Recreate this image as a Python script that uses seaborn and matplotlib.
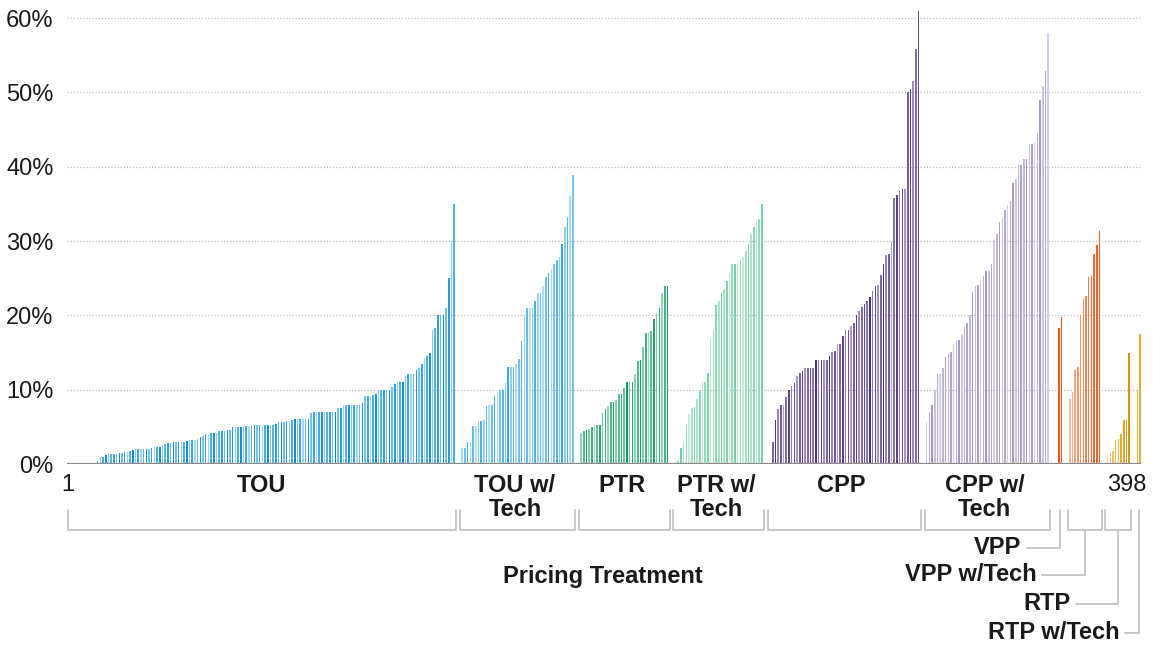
import numpy as np
import pandas as pd
import seaborn as sns
import matplotlib.pyplot as plt
from matplotlib.colors import to_rgb
from matplotlib.ticker import PercentFormatter
from matplotlib.transforms import blended_transform_factory

# peak demand reduction per pilot, sorted inside each pricing treatment (%)
groups = ['TOU', 'TOU w/\nTech', 'PTR', 'PTR w/\nTech', 'CPP', 'CPP w/\nTech',
          'VPP', 'VPP w/Tech', 'RTP', 'RTP w/Tech']

tou = [0, 0, 0, 0, 0, 0, 0, 0, 0, 0, 0,
       0.4, 0.9, 1.0, 1.2, 1.3, 1.35, 1.35, 1.4, 1.5, 1.5, 1.6, 1.6, 1.7, 1.85,
       2.0, 2.0, 2.0, 2.0, 2.0, 2.0, 2.2, 2.3, 2.3, 2.3, 2.6, 2.7, 2.8, 2.8, 2.9,
       3.0, 3.0, 3.0, 3.0, 3.1, 3.2, 3.2, 3.3, 3.4, 3.6, 3.8, 4.0, 4.1, 4.2, 4.2,
       4.2, 4.4, 4.5, 4.5, 4.6, 4.6, 5.0, 5.0, 5.0, 5.0, 5.1, 5.1, 5.1, 5.2, 5.2,
       5.2, 5.2, 5.2, 5.3, 5.3,
       5.3, 5.3, 5.4, 5.6, 5.6, 5.7, 5.8, 5.8, 5.9, 6.0, 6.0, 6.0, 6.0, 6.1, 6.1,
       6.8, 7.0, 7.0, 7.0, 7.0, 7.0, 7.0, 7.0, 7.0, 7.0, 7.5, 7.6,
       8.0, 8.0, 8.0, 8.0, 8.0, 8.0, 8.0, 8.2, 9.1, 9.1, 9.1, 9.3, 9.4,
       10.0, 10.0, 10.0, 10.0, 10.0, 10.3, 10.8, 11.1, 11.1, 11.1, 11.8,
       12.1, 12.1, 12.1, 12.6, 12.9, 13.5, 14.3, 14.5, 14.9, 18.1, 18.3,
       20.0, 20.0, 20.0, 21.0, 25.0, 30.0, 35.0]
tou_tech = [0, 0, 2.1, 2.1, 3.0, 3.0, 5.1, 5.1, 5.6, 5.8, 5.9, 7.8, 8.0, 8.0,
            9.1, 9.6, 10.0, 10.0, 10.9, 13.0, 13.0, 13.0, 13.5, 14.1, 16.6,
            20.0, 21.0, 21.0, 21.0, 22.0, 23.0, 23.0, 24.0, 25.2, 25.7, 26.3,
            26.9, 27.4, 27.9, 29.6, 31.9, 33.3, 36.0, 38.9]
ptr = [0, 0, 4.2, 4.4, 4.6, 4.75, 5.0, 5.2, 5.3, 5.3, 6.9, 7.4, 7.8, 8.4, 8.4,
       8.6, 9.4, 9.4, 10.2, 11.1, 11.1, 11.1, 12.1, 13.9, 14.0, 15.8, 17.6,
       17.8, 17.9, 19.5, 20.2, 21.0, 23.0, 23.9, 23.9]
ptr_tech = [0, 0, 0.4, 0.4, 2.2, 3.0, 5.3, 6.7, 7.6, 7.7, 8.7, 10.0, 11.1, 11.1,
            12.2, 17.0, 18.0, 21.4, 22.0, 23.0, 23.6, 24.6, 25.7, 26.9, 26.9,
            26.9, 27.4, 27.9, 28.7, 29.6, 31.0, 31.9, 32.5, 33.0, 35.0]
cpp = [0, 0, 0, 3.0, 5.9, 7.4, 8.0, 8.0, 9.0, 10.0, 10.5, 10.9, 11.8, 12.2,
       12.5, 12.9, 12.9, 12.9, 12.9, 14.0, 14.0, 14.0, 14.0, 14.0, 14.5, 15.1,
       15.2, 16.1, 16.1, 17.2, 18.1, 18.1, 18.6, 19.0, 20.1, 20.6, 21.1, 21.5,
       22.0, 22.5, 23.3, 24.0, 24.1, 25.4, 26.9, 28.1, 28.3, 29.9, 35.8, 36.2,
       36.7, 37.0, 37.0, 50.0, 50.4, 51.6, 55.8, 61.0]
cpp_tech = [0, 0, 5.7, 7.0, 8.0, 10.0, 12.1, 12.1, 12.9, 14.4, 15.0, 15.1, 16.1,
            16.5, 16.7, 17.5, 18.5, 19.0, 20.0, 23.1, 24.0, 24.1, 24.7, 25.3,
            26.0, 26.0, 26.9, 30.1, 31.0, 32.5, 33.1, 34.2, 34.9, 35.4, 37.8,
            38.4, 40.2, 40.2, 41.1, 41.1, 43.0, 43.0, 43.2, 44.5, 49.0, 50.9,
            52.9, 58.0]
vpp = [0, 0, 0, 18.3, 19.8]
vpp_tech = [0, 0, 8.8, 9.7, 12.7, 13.1, 20.0, 22.2, 22.6, 25.1, 25.3, 28.3,
            29.5, 31.3]
rtp = [0, 0, 0.9, 1.5, 1.8, 3.2, 3.4, 4.0, 5.9, 5.9, 15.0]
rtp_tech = [0, 0, 10.0, 17.5]

series = [tou, tou_tech, ptr, ptr_tech, cpp, cpp_tech, vpp, vpp_tech, rtp, rtp_tech]

# styling
light = ['#aadbf2', '#bde3f5', '#a3dcc2', '#cbecde', '#b0a3cd', '#d8d1e6',
         '#f26a30', '#f8c6aa', '#f5dca0', '#eccb7c']
dark = ['#0a8bd0', '#3aa8dd', '#0f9a5e', '#6fcfa6', '#4f2f80', '#a293c2',
        '#f04e1a', '#f05a20', '#d9960c', '#e3a93a']
ramp = [False, False, False, False, False, False, True, True, True, True]
shade_cycle = [0.35, 0.8, 0.15, 0.55, 0.95, 0.25, 0.65, 0.05, 0.45, 0.85,
               0.3, 0.7, 0.1, 0.6, 0.9, 0.2, 0.5, 0.75, 0.4, 1.0]

rows = []
pos = 1
for g, vals in enumerate(series):
    for i, v in enumerate(vals):
        rows.append({'pos': pos, 'value': v / 100, 'group': g, 'idx': i})
        pos += 1
df = pd.DataFrame(rows)
n_total = len(df)

bar_color = {}
for g, vals in enumerate(series):
    sub = df[df.group == g]
    c0, c1 = np.array(to_rgb(light[g])), np.array(to_rgb(dark[g]))
    for _, r in sub.iterrows():
        if ramp[g]:
            t = r.idx / (len(vals) - 1)
        else:
            t = shade_cycle[int(r.idx) % len(shade_cycle)]
        bar_color[int(r.pos)] = tuple(c0 + (c1 - c0) * t)

sns.set_theme(style='white')
plt.rcParams['font.family'] = ['Liberation Sans', 'DejaVu Sans']
text_c = '#1a1a1a'
line_c = '#c8c8c8'
fs = 17

W, H = 1153, 647
fig = plt.figure(figsize=(W / 100, H / 100), dpi=100)
ax = fig.add_axes([0.0578, 0.2828, 0.9321, 0.7007])

sns.barplot(data=df, x='pos', y='value', native_scale=True, width=0.58,
            color='#1a9ad6', errorbar=None, linewidth=0, saturation=1, ax=ax)
for p in ax.patches:
    c = int(round(p.get_x() + p.get_width() / 2))
    if c in bar_color:
        p.set_facecolor(bar_color[c])

ax.set_xlim(0.5, n_total + 0.5)
ax.set_ylim(0, 0.61)
ax.set_yticks(np.arange(0, 0.61, 0.1))
ax.yaxis.set_major_formatter(PercentFormatter(1.0, decimals=0))
ax.tick_params(axis='y', length=0, pad=9.5, labelsize=fs, labelcolor=text_c)
ax.tick_params(axis='x', length=0, labelbottom=False)
ax.set_xlabel('')
ax.set_ylabel('')
for s in ax.spines.values():
    s.set_visible(False)
ax.set_axisbelow(True)
ax.yaxis.grid(True, color='#bdbdbd', linestyle=(0, (1, 1.5)), linewidth=0.9)
ax.axhline(0, color='#8a8a8a', lw=1.6, zorder=5)

tr = blended_transform_factory(ax.transData, fig.transFigure)
def fy(px):
    return 1 - px / H

# end labels of the axis
ax.text(1, fy(491), '1', transform=tr, ha='center', va='baseline',
        fontsize=fs, color=text_c)
ax.text(n_total + 2.5, fy(491), str(n_total), transform=tr, ha='right',
        va='baseline', fontsize=fs, color=text_c)

# brackets and labels
starts = []
start = 1
for vals in series:
    starts.append(start)
    start += len(vals)

leader_y = [548, 575, 604, 633]
leader_len = [12.4, 15.9, 15.7, 5.0]
k = 0
for g, vals in enumerate(series):
    gs, ge = starts[g], starts[g] + len(vals) - 1
    nz = [gs + i for i, v in enumerate(vals) if v > 0]
    if len(vals) <= 5:
        stem = np.mean(nz)
        ax.plot([stem, stem], [fy(510), fy(leader_y[k])], transform=tr,
                color=line_c, lw=1.4, clip_on=False)
    else:
        b0 = 1.0 if g == 0 else gs + 1.2
        b1 = ge + 0.8
        ax.plot([b0, b0, b1, b1], [fy(510), fy(530), fy(530), fy(510)],
                transform=tr, color=line_c, lw=1.4, clip_on=False)
        stem = (b0 + b1) / 2
        if g >= 6:
            ax.plot([stem, stem], [fy(530), fy(leader_y[k])], transform=tr,
                    color=line_c, lw=1.4, clip_on=False)
    if g < 6:
        center = (gs + ge) / 2
        for j, line in enumerate(groups[g].split('\n')):
            ax.text(center, fy(491.5 + 24.5 * j), line, transform=tr,
                    ha='center', va='baseline', fontsize=fs,
                    fontweight='bold', color=text_c)
    else:
        x_end = stem - leader_len[k]
        ax.plot([stem, x_end], [fy(leader_y[k]), fy(leader_y[k])], transform=tr,
                color=line_c, lw=1.4, clip_on=False)
        ax.text(x_end - 2.0, fy(leader_y[k] + 6), groups[g], transform=tr,
                ha='right', va='baseline', fontsize=fs, fontweight='bold',
                color=text_c)
        k += 1

ax.text(199, fy(582.5), 'Pricing Treatment', transform=tr, ha='center',
        va='baseline', fontsize=fs, fontweight='bold', color=text_c)

fig.savefig('out.png', dpi=100)
plt.close(fig)
